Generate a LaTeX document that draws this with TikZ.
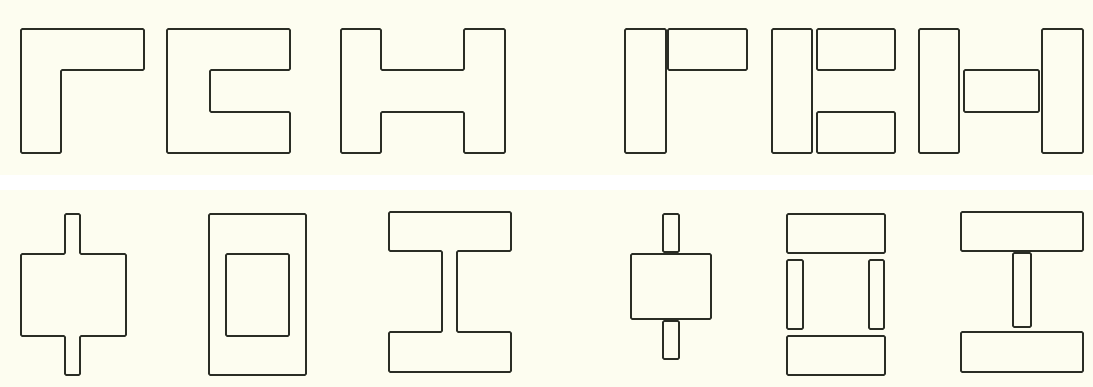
\documentclass[tikz,border=0pt]{standalone}
\definecolor{cream}{HTML}{FDFDF0}
\definecolor{band}{HTML}{FFFFFF}
\definecolor{ink}{HTML}{2A2D25}
\tikzset{part/.style={draw=ink,line width=1.8pt,line join=round,rounded corners=1.2pt}}
\begin{document}
\begin{tikzpicture}[x=1pt,y=-1pt]
\useasboundingbox (0,0) rectangle (1093,387);
\fill[cream] (0,0) rectangle (1093,387);
\fill[band] (0,175) rectangle (1093,190);
% ---- top row, left: one-piece outlines
\draw[part] (21,29) -- (144,29) -- (144,70) -- (61,70) -- (61,153) -- (21,153) -- cycle;
\draw[part] (167,29) -- (290,29) -- (290,70) -- (210,70) -- (210,112) -- (290,112) -- (290,153) -- (167,153) -- cycle;
\draw[part] (341,29) -- (381,29) -- (381,70) -- (464,70) -- (464,29) -- (505,29) -- (505,153) -- (464,153) -- (464,112) -- (381,112) -- (381,153) -- (341,153) -- cycle;
% ---- top row, right: split into rectangles
\draw[part] (625,29) rectangle (666,153);
\draw[part] (668,29) rectangle (747,70);
\draw[part] (772,29) rectangle (812,153);
\draw[part] (817,29) rectangle (895,70);
\draw[part] (817,112) rectangle (895,153);
\draw[part] (919,29) rectangle (959,153);
\draw[part] (964,70) rectangle (1039,112);
\draw[part] (1042,29) rectangle (1083,153);
% ---- bottom row, left: one-piece outlines
\draw[part] (65,214) -- (80,214) -- (80,254) -- (126,254) -- (126,336) -- (80,336) -- (80,375) -- (65,375) -- (65,336) -- (21,336) -- (21,254) -- (65,254) -- cycle;
\draw[part] (209,214) rectangle (306,375);
\draw[part] (226,254) rectangle (289,336);
\draw[part] (389,212) -- (511,212) -- (511,251) -- (457,251) -- (457,332) -- (511,332) -- (511,372) -- (389,372) -- (389,332) -- (442,332) -- (442,251) -- (389,251) -- cycle;
% ---- bottom row, right: split into rectangles
\draw[part] (663,214) rectangle (679,252);
\draw[part] (631,254) rectangle (711,319);
\draw[part] (663,321) rectangle (679,359);
\draw[part] (787,214) rectangle (885,253);
\draw[part] (787,260) rectangle (803,329);
\draw[part] (869,260) rectangle (884,329);
\draw[part] (787,336) rectangle (885,375);
\draw[part] (961,212) rectangle (1083,251);
\draw[part] (1013,253) rectangle (1031,327);
\draw[part] (961,332) rectangle (1083,372);
\end{tikzpicture}
\end{document}
